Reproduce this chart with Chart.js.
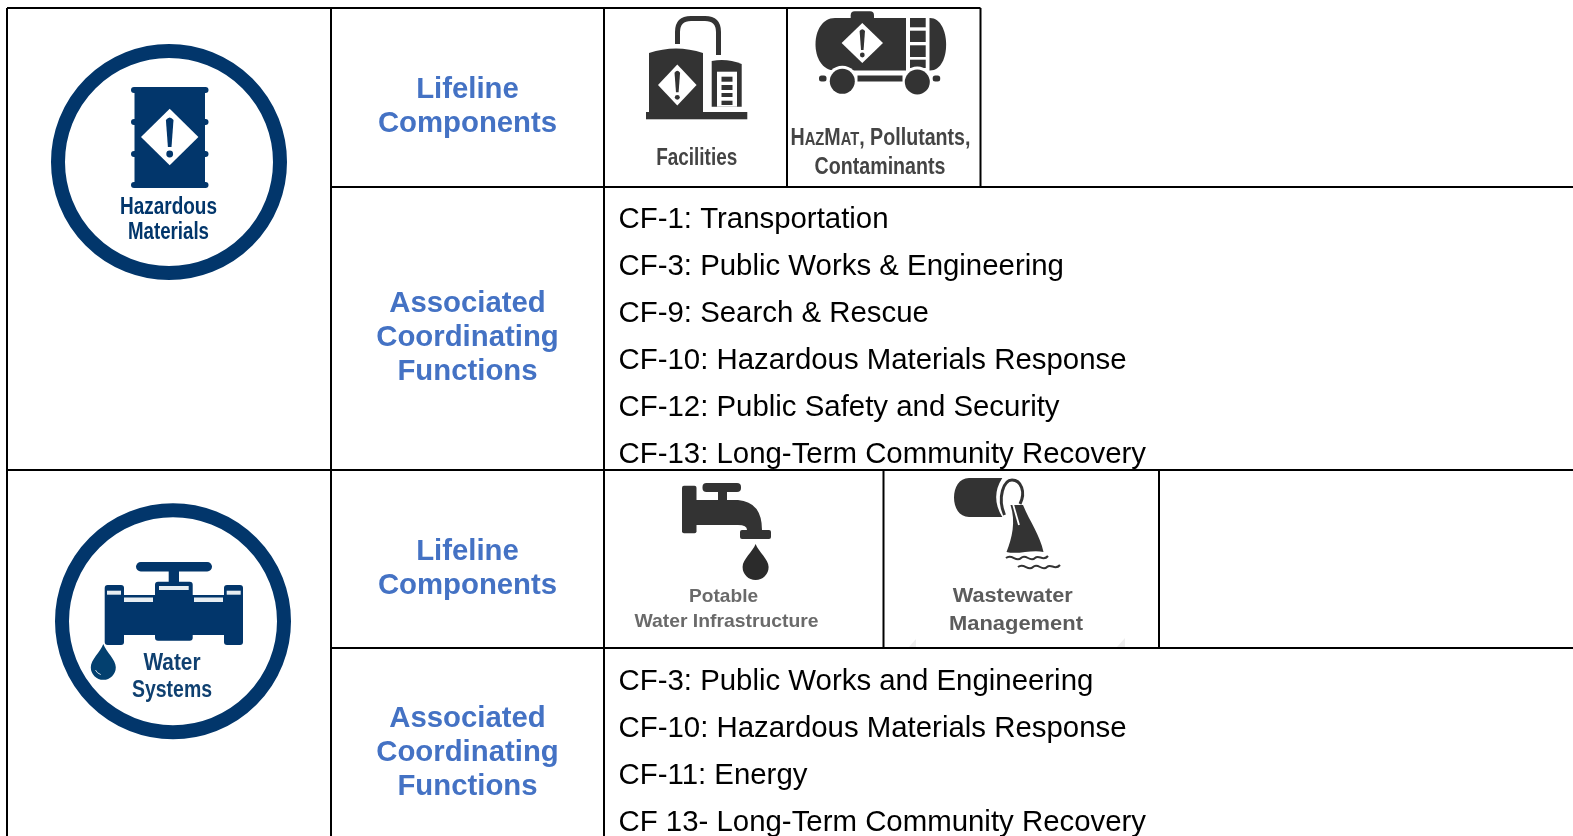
<!DOCTYPE html>
<html>
<head>
<meta charset="utf-8">
<title>Lifelines</title>
<script src="https://cdn.jsdelivr.net/npm/chart.js@4"></script>
<style>
  html, body { margin: 0; padding: 0; background: #fff; overflow: hidden; }
  canvas { display: block; }
</style>
</head>
<body>
<canvas id="lifelineChart" width="1573" height="836"></canvas>
<script>
const headingLifeline = ['Lifeline', 'Components'];
const headingFunctions = ['Associated', 'Coordinating', 'Functions'];
const hazmatFunctions = [
  'CF-1: Transportation',
  'CF-3: Public Works & Engineering',
  'CF-9: Search & Rescue',
  'CF-10: Hazardous Materials Response',
  'CF-12: Public Safety and Security',
  'CF-13: Long-Term Community Recovery'
];
const waterFunctions = [
  'CF-3: Public Works and Engineering',
  'CF-10: Hazardous Materials Response',
  'CF-11: Energy',
  'CF 13- Long-Term Community Recovery'
];

// table rules as [x1, y1, x2, y2], the value axes run in page pixels
const tableRules = [
  [7, 8, 980.5, 8], [331, 187, 1573, 187], [7, 470, 1573, 470], [331, 648, 1573, 648],
  [7, 8, 7, 836], [331, 8, 331, 836], [604, 8, 604, 836],
  [787, 8, 787, 187], [980.5, 8, 980.5, 187], [883.5, 470, 883.5, 648], [1159, 470, 1159, 648]
];

const NAVY = '#02366b';
const DARK = '#333333';
const BLUE = '#4472c4';

function fitText(c, str, cx, base, width, font, color) {
  c.save();
  c.font = font;
  c.fillStyle = color;
  c.textAlign = 'center';
  c.textBaseline = 'alphabetic';
  const w = c.measureText(str).width;
  c.translate(cx, base);
  c.scale(width / w, 1);
  c.fillText(str, 0, 0);
  c.restore();
}

function rect(c, x, y, w, h, color) {
  c.fillStyle = color;
  c.fillRect(x, y, w, h);
}

function pill(c, x, y, w, h, color) {
  c.fillStyle = color;
  c.beginPath();
  c.roundRect(x, y, w, h, h / 2);
  c.fill();
}

function rounded(c, x, y, w, h, r, color) {
  c.fillStyle = color;
  c.beginPath();
  c.roundRect(x, y, w, h, r);
  c.fill();
}

function diamond(c, cx, cy, hw, hh, color) {
  c.fillStyle = '#fff';
  c.beginPath();
  c.moveTo(cx - hw, cy);
  c.lineTo(cx, cy - hh);
  c.lineTo(cx + hw, cy);
  c.lineTo(cx, cy + hh);
  c.closePath();
  c.fill();
  // exclamation mark, sized from the diamond
  const k = hh / 28.3;
  c.fillStyle = color;
  c.beginPath();
  c.moveTo(cx - 3.8 * k, cy - 17 * k);
  c.quadraticCurveTo(cx, cy - 22 * k, cx + 3.8 * k, cy - 17 * k);
  c.lineTo(cx + 1.8 * k, cy + 10 * k);
  c.lineTo(cx - 1.8 * k, cy + 10 * k);
  c.closePath();
  c.fill();
  c.beginPath();
  c.arc(cx, cy + 17 * k, 3.4 * k, 0, Math.PI * 2);
  c.fill();
}

function drop(c, x, tipY, cy, r, color) {
  c.fillStyle = color;
  c.beginPath();
  c.moveTo(x, tipY);
  c.bezierCurveTo(x + 3, tipY + 8, x + r, cy - r * 0.6, x + r, cy);
  c.arc(x, cy, r, 0, Math.PI);
  c.bezierCurveTo(x - r, cy - r * 0.6, x - 3, tipY + 8, x, tipY);
  c.fill();
}

function ring(c, cx, cy) {
  c.strokeStyle = NAVY;
  c.lineWidth = 14;
  c.beginPath();
  c.arc(cx, cy, 111, 0, Math.PI * 2);
  c.stroke();
}

function hazmatBadge(c) {
  ring(c, 169, 162);
  rect(c, 134.5, 88, 70.5, 99, NAVY);
  [87, 119, 151, 182].forEach(y => pill(c, 131, y, 77.5, 6, NAVY));
  diamond(c, 169.7, 137, 28.7, 28.3, NAVY);
  fitText(c, 'Hazardous', 168.5, 214, 97, 'bold 23px "Liberation Sans"', NAVY);
  fitText(c, 'Materials', 168.5, 238.7, 81, 'bold 23px "Liberation Sans"', NAVY);
}

function waterBadge(c) {
  ring(c, 173, 621.3);
  pill(c, 136, 562, 76, 9.5, NAVY);
  rect(c, 168.7, 571, 10.3, 12, NAVY);
  rounded(c, 155, 581.7, 37.7, 59, 3, NAVY);
  rounded(c, 104.7, 585, 19.3, 60, 3, NAVY);
  rounded(c, 224, 585, 19, 60, 3, NAVY);
  rect(c, 120, 595, 108, 40, NAVY);
  [[107, 590.7, 14, 4], [124, 597.5, 29, 4.5], [159, 586, 29.7, 4], [194, 597.5, 29, 4.5], [226.7, 590.7, 14, 4]]
    .forEach(r => rect(c, r[0], r[1], r[2], r[3], '#e8eef2'));
  drop(c, 103.3, 644, 667.3, 12.5, '#03406f');
  c.strokeStyle = '#cfdbe4';
  c.lineWidth = 1;
  c.beginPath();
  c.arc(103.5, 666, 9, Math.PI * 0.6, Math.PI * 0.85);
  c.stroke();
  fitText(c, 'Water', 172, 670, 57, 'bold 23px "Liberation Sans"', '#0f4070');
  fitText(c, 'Systems', 172, 696.7, 80, 'bold 23px "Liberation Sans"', '#0f4070');
}

function facilityIcon(c) {
  c.strokeStyle = DARK;
  c.lineWidth = 5;
  c.beginPath();
  c.moveTo(677.5, 44);
  c.lineTo(677.5, 32);
  c.quadraticCurveTo(677.5, 18.5, 691, 18.5);
  c.lineTo(705, 18.5);
  c.quadraticCurveTo(718.5, 18.5, 718.5, 32);
  c.lineTo(718.5, 55);
  c.stroke();
  c.fillStyle = DARK;
  c.beginPath();
  c.moveTo(649, 113);
  c.lineTo(649, 53);
  c.quadraticCurveTo(676, 44, 703, 53);
  c.lineTo(703, 113);
  c.closePath();
  c.fill();
  c.beginPath();
  c.moveTo(711.7, 106.7);
  c.lineTo(711.7, 61);
  c.quadraticCurveTo(727, 58, 741.7, 64);
  c.lineTo(741.7, 106.7);
  c.closePath();
  c.fill();
  rect(c, 646, 112, 101.3, 7.3, DARK);
  rect(c, 717, 71.7, 20, 35, '#fff');
  [[76.7, 5], [85, 5], [93, 4], [100.7, 4.3]].forEach(r => rect(c, 721.5, r[0], 11, r[1], DARK));
  diamond(c, 677.3, 85, 19.3, 20.6, DARK);
  fitText(c, 'Facilities', 696.7, 165, 81, 'bold 24px "Liberation Sans"', '#444');
}

function tankerIcon(c) {
  rounded(c, 850.7, 11.3, 23.3, 11, 4, DARK);
  c.fillStyle = DARK;
  c.beginPath();
  c.moveTo(835, 18);
  c.lineTo(930, 18);
  c.bezierCurveTo(951, 18, 952, 70.5, 930, 70.5);
  c.lineTo(835, 70.5);
  c.bezierCurveTo(809, 70.5, 809, 18, 835, 18);
  c.fill();
  rect(c, 906, 18, 23.5, 53, '#fff');
  [[18, 9.3], [30.7, 11.3], [45.3, 11.7], [59.7, 8.3]].forEach(r => rect(c, 910, r[0], 15.7, r[1], DARK));
  diamond(c, 862.3, 43, 20.7, 20, DARK);
  [[842.3, 81.3], [917.3, 82]].forEach(w => {
    c.fillStyle = '#fff';
    c.beginPath();
    c.arc(w[0], w[1], 15.5, 0, Math.PI * 2);
    c.fill();
    c.fillStyle = DARK;
    c.beginPath();
    c.arc(w[0], w[1], 12.5, 0, Math.PI * 2);
    c.fill();
  });
  rect(c, 857.5, 75.5, 45, 6, DARK);
  rounded(c, 819, 75.5, 7.5, 6, 2.5, DARK);
  rounded(c, 932.7, 75.5, 7.5, 6, 2.5, DARK);

  // small caps first line
  const parts = [['H', 24], ['AZ', 18], ['M', 24], ['AT', 18], [', Pollutants,', 24]];
  c.save();
  c.fillStyle = '#444';
  c.textBaseline = 'alphabetic';
  c.textAlign = 'left';
  let total = 0;
  parts.forEach(p => {
    c.font = 'bold ' + p[1] + 'px "Liberation Sans"';
    total += c.measureText(p[0]).width;
  });
  c.translate(790.5, 145);
  c.scale(180 / total, 1);
  let at = 0;
  parts.forEach(p => {
    c.font = 'bold ' + p[1] + 'px "Liberation Sans"';
    c.fillText(p[0], at, 0);
    at += c.measureText(p[0]).width;
  });
  c.restore();
  fitText(c, 'Contaminants', 880, 173.5, 131, 'bold 24px "Liberation Sans"', '#444');
}

function faucetIcon(c) {
  rounded(c, 682, 485.7, 14.5, 47.5, 2, DARK);
  rounded(c, 702.5, 483, 38.5, 9, 4, DARK);
  rect(c, 718, 492, 9, 9, DARK);
  c.fillStyle = DARK;
  c.beginPath();
  c.moveTo(696, 500);
  c.lineTo(738, 500);
  c.quadraticCurveTo(762, 502, 762, 530);
  c.lineTo(747, 530);
  c.quadraticCurveTo(747, 525, 738, 525);
  c.lineTo(696, 525);
  c.closePath();
  c.fill();
  rounded(c, 740, 530, 31, 9, 2, DARK);
  drop(c, 755.6, 544, 567, 13, '#2b2b2b');
  fitText(c, 'Potable', 723.6, 601.7, 69, 'bold 19px "Liberation Sans"', '#6a6a6a');
  fitText(c, 'Water Infrastructure', 726.5, 627, 184, 'bold 19px "Liberation Sans"', '#6a6a6a');
}

function wastewaterIcon(c) {
  c.fillStyle = DARK;
  c.beginPath();
  c.moveTo(1002.3, 478);
  c.lineTo(969, 478);
  c.bezierCurveTo(949, 478, 949, 517, 969, 517);
  c.lineTo(1002.3, 517);
  c.quadraticCurveTo(990, 497, 1002.3, 478);
  c.closePath();
  c.fill();
  // rim of the pipe mouth
  c.strokeStyle = DARK;
  c.lineWidth = 3;
  c.beginPath();
  c.moveTo(1004.5, 515);
  c.bezierCurveTo(997, 497, 1004, 480, 1012, 480);
  c.bezierCurveTo(1021, 480, 1026, 492, 1020, 504);
  c.stroke();
  // outflow
  c.fillStyle = DARK;
  c.beginPath();
  c.moveTo(1010.5, 505);
  c.lineTo(1023, 505);
  c.bezierCurveTo(1030, 522, 1040, 535, 1043.5, 552);
  c.bezierCurveTo(1032, 549, 1018, 555, 1006.5, 552);
  c.bezierCurveTo(1012, 538, 1016, 522, 1010.5, 505);
  c.fill();
  c.strokeStyle = '#fff';
  c.lineWidth = 1.8;
  c.beginPath();
  c.moveTo(1013, 504);
  c.lineTo(1019, 525);
  c.stroke();
  c.strokeStyle = DARK;
  c.lineWidth = 2;
  [[1006, 558], [1018, 567]].forEach(w => {
    c.beginPath();
    c.moveTo(w[0], w[1]);
    c.bezierCurveTo(w[0] + 6, w[1] - 5, w[0] + 10, w[1] + 5, w[0] + 15, w[1]);
    c.bezierCurveTo(w[0] + 20, w[1] - 5, w[0] + 24, w[1] + 5, w[0] + 29, w[1]);
    c.bezierCurveTo(w[0] + 33, w[1] - 4, w[0] + 37, w[1] + 4, w[0] + 42, w[1] - 2);
    c.stroke();
  });
  fitText(c, 'Wastewater', 1012.7, 602.3, 120, 'bold 20px "Liberation Sans"', '#5c5c5c');
  fitText(c, 'Management', 1016, 630.2, 134, 'bold 20px "Liberation Sans"', '#5c5c5c');
  // pale corners left over in the pasted picture
  c.fillStyle = '#eeeeee';
  c.beginPath();
  c.moveTo(909, 647);
  c.lineTo(916, 639);
  c.lineTo(916, 647);
  c.closePath();
  c.moveTo(1125, 647);
  c.lineTo(1125, 638);
  c.lineTo(1117, 647);
  c.closePath();
  c.fill();
}

function heading(c, lines, firstBase) {
  c.font = 'bold 29.33px "Liberation Sans"';
  c.fillStyle = BLUE;
  c.textAlign = 'center';
  c.textBaseline = 'alphabetic';
  lines.forEach((t, i) => c.fillText(t, 467.5, firstBase + i * 33.8));
}

function functionList(c, lines, firstBase, clipTop, clipBottom) {
  c.save();
  c.beginPath();
  c.rect(605, clipTop, 968, clipBottom - clipTop);
  c.clip();
  c.font = '29.4px "Liberation Sans"';
  c.fillStyle = '#000';
  c.textAlign = 'left';
  c.textBaseline = 'alphabetic';
  lines.forEach((t, i) => c.fillText(t, 618.5, firstBase + i * 47.05));
  c.restore();
}

const tableContent = {
  id: 'tableContent',
  beforeDatasetsDraw(chart) {
    const c = chart.ctx;
    c.save();
    rect(c, 0, 0, 1573, 836, '#fff');
    heading(c, headingLifeline, 98);
    heading(c, headingFunctions, 312);
    heading(c, headingLifeline, 560);
    heading(c, headingFunctions, 727);
    functionList(c, hazmatFunctions, 228.2, 188, 470);
    functionList(c, waterFunctions, 689.7, 649, 836);
    hazmatBadge(c);
    waterBadge(c);
    facilityIcon(c);
    tankerIcon(c);
    faucetIcon(c);
    wastewaterIcon(c);
    c.restore();
  }
};

new Chart(document.getElementById('lifelineChart').getContext('2d'), {
  type: 'scatter',
  data: {
    datasets: tableRules.map(r => ({
      data: [{ x: r[0], y: r[1] }, { x: r[2], y: r[3] }],
      showLine: true,
      borderColor: '#000',
      borderWidth: 2,
      pointRadius: 0,
      clip: false
    }))
  },
  options: {
    responsive: false,
    animation: false,
    layout: { padding: 0 },
    plugins: { legend: { display: false }, tooltip: { enabled: false } },
    scales: {
      x: { type: 'linear', display: false, min: 0, max: 1573 },
      y: { type: 'linear', display: false, min: 0, max: 836, reverse: true }
    }
  },
  plugins: [tableContent]
});
</script>
</body>
</html>
